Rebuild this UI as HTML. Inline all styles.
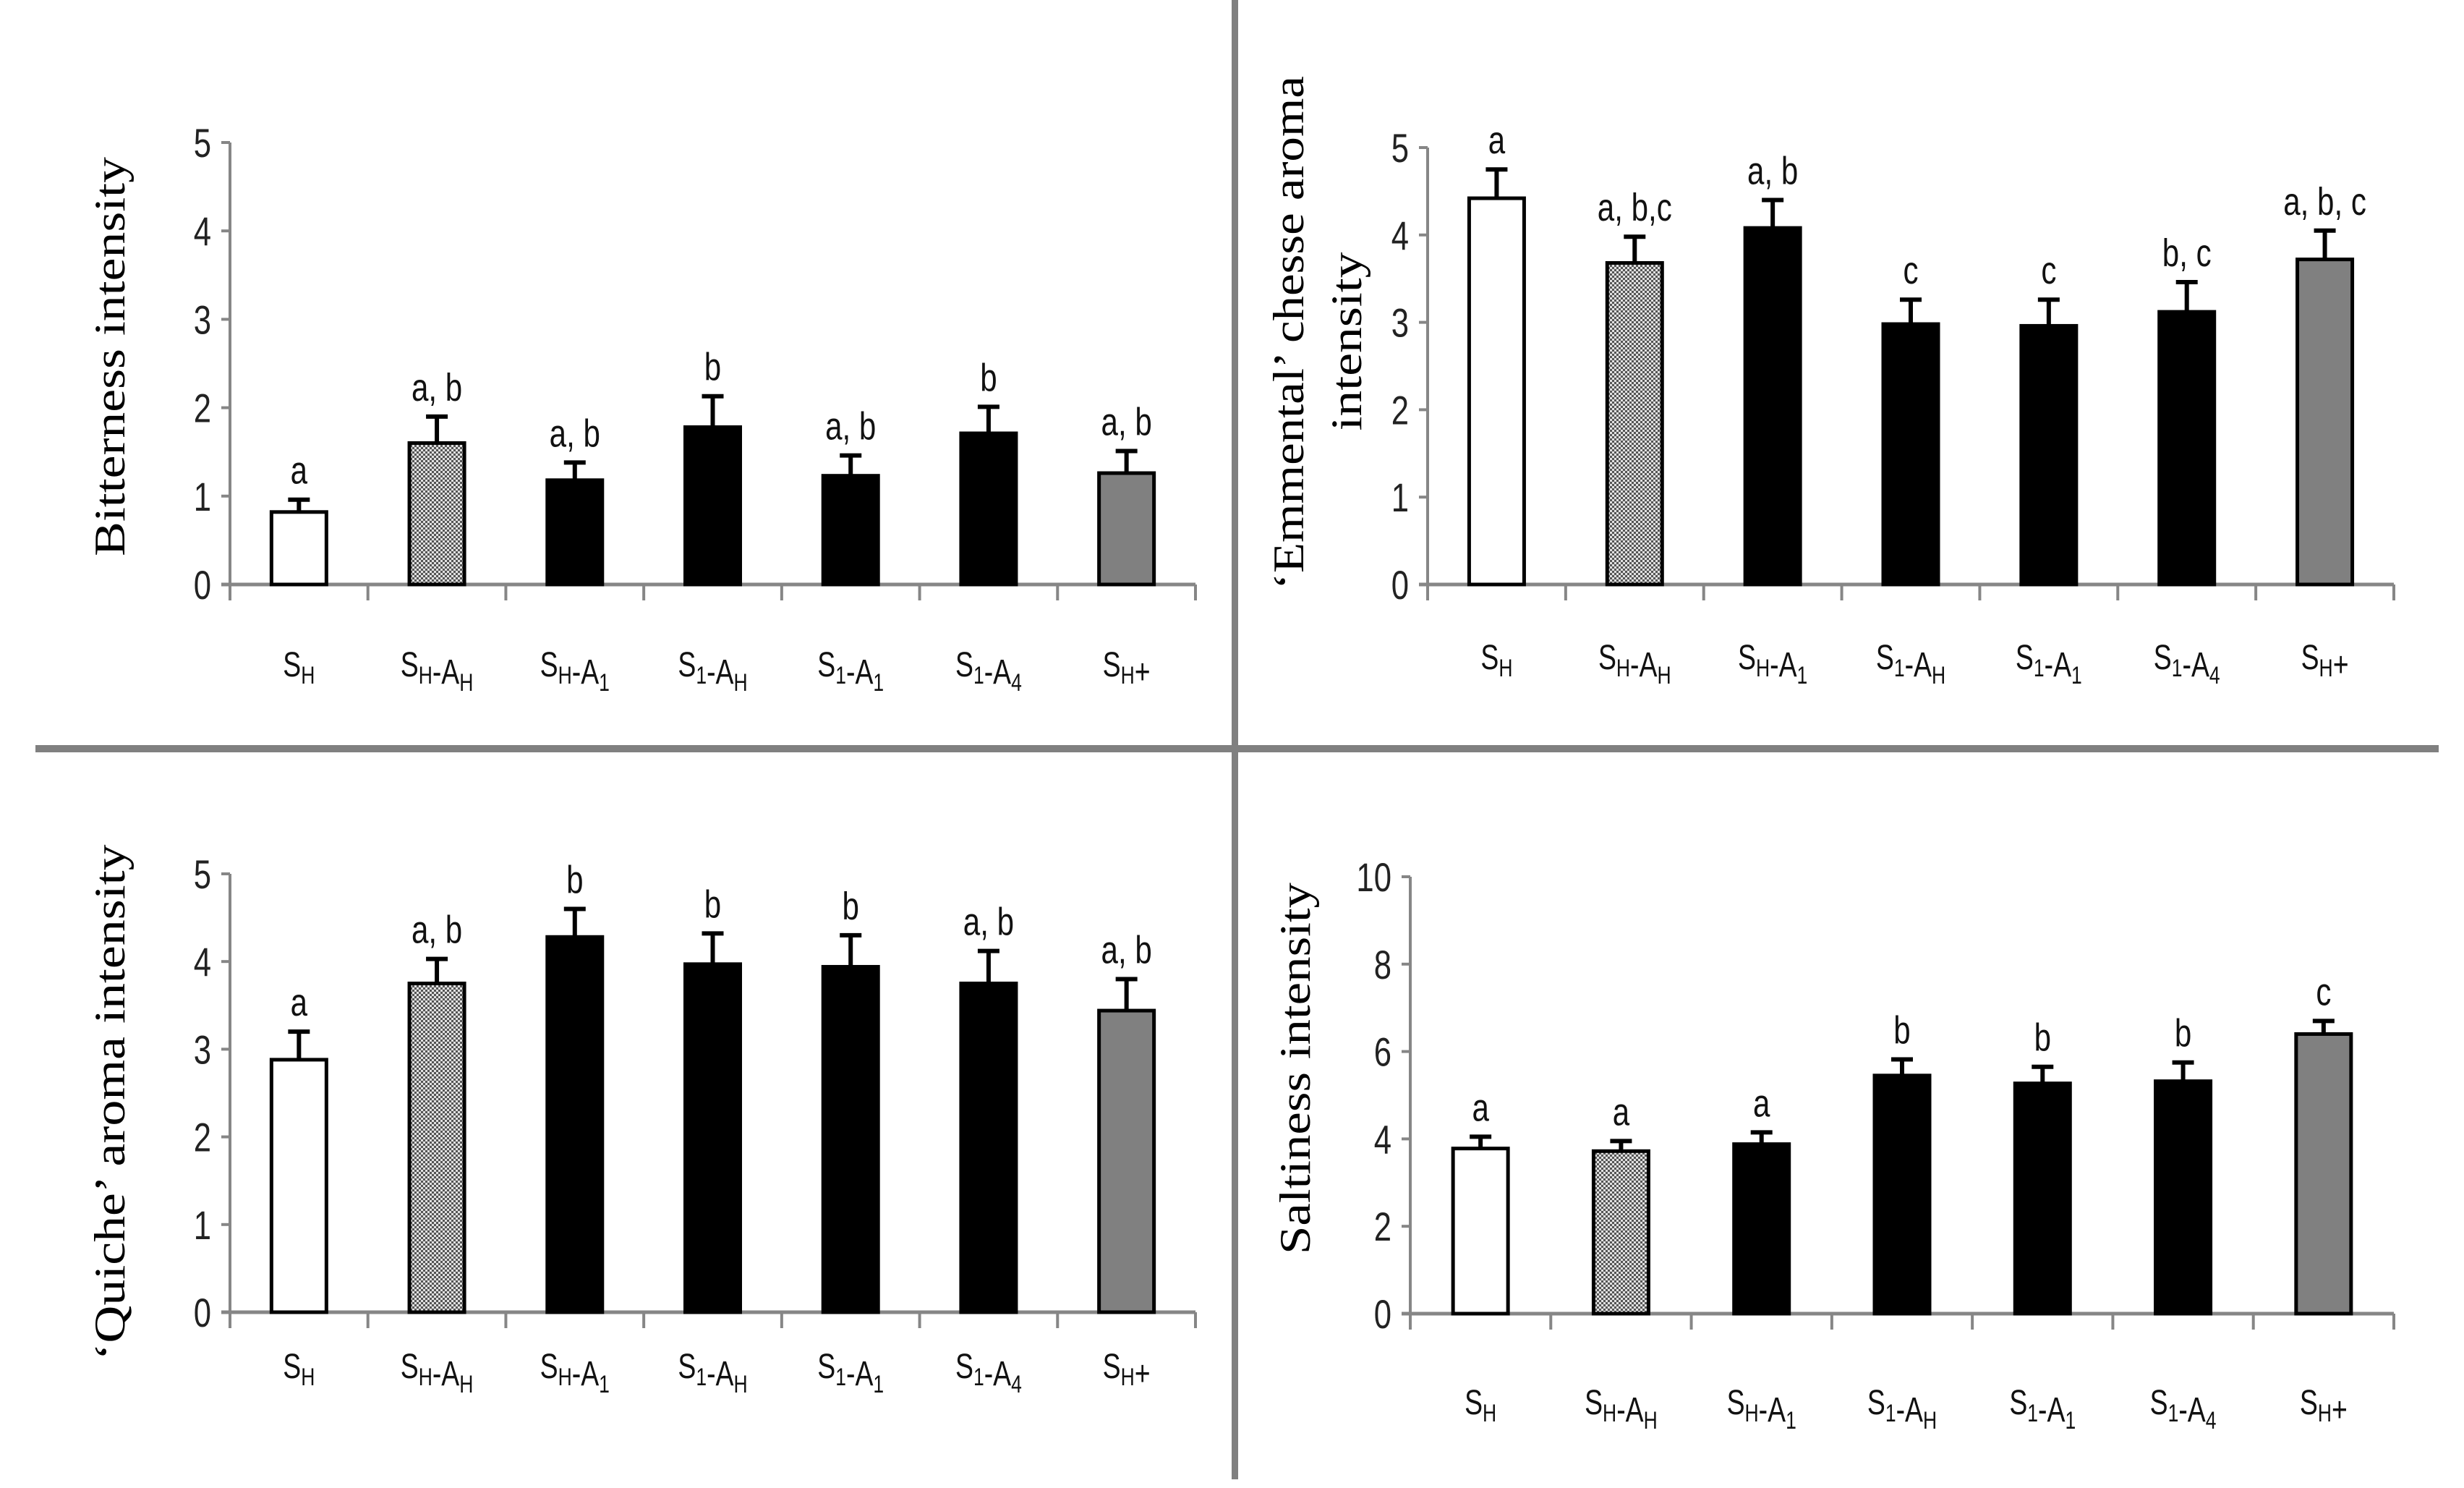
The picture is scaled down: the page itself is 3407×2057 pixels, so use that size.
<!DOCTYPE html>
<html><head><meta charset="utf-8"><style>
html,body{margin:0;padding:0;background:#fff;}
svg{display:block;}
text{font-family:"Liberation Sans",sans-serif;}
</style></head><body>
<svg id="fig" width="3407" height="2057" viewBox="0 0 3407 2057">
<defs>
<pattern id="dots" width="6" height="6" patternUnits="userSpaceOnUse">
<rect width="6" height="6" fill="#e0e0e0"/><rect width="3" height="3" fill="#555"/><rect x="3" y="3" width="3" height="3" fill="#555"/>
</pattern>
</defs>
<rect x="1703" y="0" width="9" height="2045" fill="#808080"/>
<rect x="49" y="1030" width="3323" height="10" fill="#808080"/>
</svg>
<script>
const categories = ["SH","SH-AH","SH-A1","S1-AH","S1-A1","S1-A4","SH+"];
const bitterMeans = [0.82,1.60,1.18,1.78,1.23,1.71,1.26];
const bitterErr = [0.14,0.30,0.20,0.35,0.23,0.30,0.25];
const bitterLetters = ["a","a, b","a, b","b","a, b","b","a, b"];
const emmMeans = [4.42,3.68,4.08,2.98,2.96,3.12,3.72];
const emmErr = [0.33,0.30,0.32,0.28,0.30,0.34,0.33];
const emmLetters = ["a","a, b,c","a, b","c","c","b, c","a, b, c"];
const quicheMeans = [2.88,3.75,4.28,3.97,3.94,3.75,3.44];
const quicheErr = [0.32,0.28,0.32,0.35,0.36,0.37,0.36];
const quicheLetters = ["a","a, b","b","b","b","a, b","a, b"];
const saltMeans = [3.78,3.72,3.88,5.45,5.27,5.32,6.40];
const saltErr = [0.27,0.23,0.27,0.37,0.38,0.43,0.30];
const saltLetters = ["a","a","a","b","b","b","c"];
const yTicks5 = [0,1,2,3,4,5];
const yTicks10 = [0,2,4,6,8,10];

const NS="http://www.w3.org/2000/svg";
const svg=document.getElementById('fig');
function mk(tag,attrs,parent){const e=document.createElementNS(NS,tag);for(const k in attrs)e.setAttribute(k,attrs[k]);(parent||svg).appendChild(e);return e;}
const fills=["#ffffff","url(#dots)","#000","#000","#000","#000","#808080"];
const catParts={"SH":[["S","H"]],"SH-AH":[["S","H"],["-A","H"]],"SH-A1":[["S","H"],["-A","1"]],"S1-AH":[["S","1"],["-A","H"]],"S1-A1":[["S","1"],["-A","1"]],"S1-A4":[["S","1"],["-A","4"]],"SH+":[["S","H"],["+",""]]};
const SX=0.78;

function panel(p){
  const g=mk('g',{});
  
  
  const ymax=p.ticks[p.ticks.length-1];
  const y=v=>p.y0-(v/ymax)*(p.y0-p.ytop);
  const n=categories.length, step=(p.x1-p.x0)/n;
  const xc=i=>p.x0+step*(i+0.5);
  const ya=mk('line',{x1:p.x0,y1:p.ytop,x2:p.x0,y2:p.y0,stroke:'#868686','stroke-width':4},g);
  
  const xa=mk('line',{x1:p.x0-12,y1:p.y0,x2:p.x1,y2:p.y0,stroke:'#868686','stroke-width':5},g);
  
  p.ticks.forEach(t=>{
    mk('line',{x1:p.x0-12,y1:y(t),x2:p.x0,y2:y(t),stroke:'#868686','stroke-width':4},g);
    const tl=mk('text',{x:0,y:0,'text-anchor':'end','font-size':56,fill:'#222',transform:`translate(${p.x0-26},${y(t)+20}) scale(${SX},1)`},g);
    tl.textContent=t;
    
  });
  for(let i=0;i<=n;i++){mk('line',{x1:p.x0+step*i,y1:p.y0,x2:p.x0+step*i,y2:p.y0+22,stroke:'#868686','stroke-width':4},g);}
  categories.forEach((c,i)=>{
    const v=p.means[i], e=p.err[i], cx=xc(i), bw=76;
    const b=mk('rect',{x:cx-bw/2,y:y(v),width:bw,height:p.y0-y(v),fill:fills[i],stroke:'#000','stroke-width':5},g);
    
    const eb=mk('path',{d:`M${cx} ${y(v)}V${y(v+e)}M${cx-15} ${y(v+e)}H${cx+15}`,stroke:'#000','stroke-width':6,fill:'none'},g);
    
    const lt=mk('text',{x:0,y:0,'text-anchor':'middle','font-size':54,fill:'#111',transform:`translate(${cx},${y(v+e)-22}) scale(${SX},1)`},g);
    lt.textContent=p.letters[i];
    
    const ct=mk('text',{x:0,y:0,'text-anchor':'middle','font-size':48,fill:'#111',transform:`translate(${cx},${p.ly}) scale(${SX},1)`},g);
    
    catParts[c].forEach(([m,s])=>{
      const t1=mk('tspan',{},ct);t1.textContent=m;
      if(s){const t2=mk('tspan',{'font-size':34,dy:10},ct);t2.textContent=s;const t3=mk('tspan',{dy:-10,'font-size':48},ct);t3.textContent='';}
    });
  });
  p.title.forEach((tt,k)=>{
    const [tx,cy,len]=tt.pos;
    const t=mk('text',{x:0,y:0,'text-anchor':'middle','font-size':60,fill:'#000',transform:`translate(${tx},${cy}) rotate(-90)`,style:'font-family:"Liberation Serif",serif',textLength:len,lengthAdjust:'spacingAndGlyphs'},g);
    t.textContent=tt.text;
    
  });
}
panel({name:'bitterness-chart',x0:318,x1:1653,y0:808,ytop:197,ticks:yTicks5,means:bitterMeans,err:bitterErr,letters:bitterLetters,ly:935,
  title:[{text:"Bitterness  intensity",pos:[172,493,552]}]});
panel({name:'emmental-chart',x0:1974,x1:3310,y0:808,ytop:204,ticks:yTicks5,means:emmMeans,err:emmErr,letters:emmLetters,ly:925,
  title:[{text:"‘Emmental’ chesse aroma",pos:[1802,460,710]},{text:"intensity",pos:[1882,472,247]}]});
panel({name:'quiche-chart',x0:318,x1:1653,y0:1814,ytop:1208,ticks:yTicks5,means:quicheMeans,err:quicheErr,letters:quicheLetters,ly:1905,
  title:[{text:"‘Quiche’ aroma intensity",pos:[172,1524,713]}]});
panel({name:'saltiness-chart',x0:1950,x1:3310,y0:1816,ytop:1212,ticks:yTicks10,means:saltMeans,err:saltErr,letters:saltLetters,ly:1955,
  title:[{text:"Saltiness  intensity",pos:[1811,1477,514]}]});
</script>
</body></html>
